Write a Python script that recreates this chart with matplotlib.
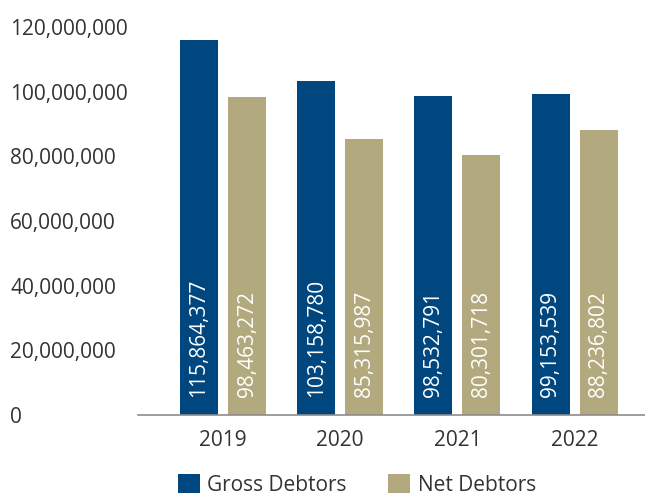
import matplotlib
matplotlib.use("Agg")
import matplotlib.pyplot as plt
from matplotlib.ticker import FuncFormatter
import numpy as np

years = ["2019", "2020", "2021", "2022"]
gross = [115864377, 103158780, 98532791, 99153539]
net = [98463272, 85315987, 80301718, 88236802]
series_names = ["Gross Debtors", "Net Debtors"]

plt.rcParams['font.family'] = ['Open Sans', 'DejaVu Sans']
TXT = '#333333'
BLUE = '#00467f'
KHAKI = '#b3a97e'

fig = plt.figure(figsize=(6.45, 4.95), dpi=100)
ax = fig.add_axes([138/645, 1-415/495, 1-138/645, (415-27)/495])

x = np.arange(len(years))
w = 0.324
off = 0.205
b1 = ax.bar(x - off, gross, w, color=BLUE, label=series_names[0])
b2 = ax.bar(x + off, net, w, color=KHAKI, label=series_names[1])

for bars, vals in ((b1, gross), (b2, net)):
    for rect, v in zip(bars, vals):
        ax.annotate(f"{v:,}", xy=(rect.get_x() + rect.get_width()/2, 0),
                    xytext=(0, 13), textcoords='offset points',
                    rotation=90, ha='center', va='bottom',
                    color='white', fontsize=15)

ax.set_xlim(-0.725, 3.6)
ax.set_ylim(0, 120000000)
ax.set_yticks(np.arange(0, 120000001, 20000000))
ax.yaxis.set_major_formatter(FuncFormatter(lambda v, p: f"{int(v):,}"))
ax.set_xticks(x)
ax.set_xticklabels(years)

for s in ['top', 'right', 'left']:
    ax.spines[s].set_visible(False)
ax.spines['bottom'].set_color('#8c8c8c')
ax.spines['bottom'].set_linewidth(1.2)

ax.tick_params(axis='y', length=0, pad=92, labelsize=15, labelcolor=TXT)
for lab in ax.get_yticklabels():
    lab.set_ha('left')
ax.tick_params(axis='x', length=0, pad=10.5, labelsize=15, labelcolor=TXT)

leg = fig.legend(handles=[b1, b2], labels=series_names, loc='center',
                 bbox_to_anchor=(357/645, 1-485/495), ncol=2, frameon=False,
                 fontsize=15, handlelength=1.05, handleheight=1.05,
                 columnspacing=2.0, handletextpad=0.35, labelcolor=TXT)

fig.savefig("out.png", dpi=100)
